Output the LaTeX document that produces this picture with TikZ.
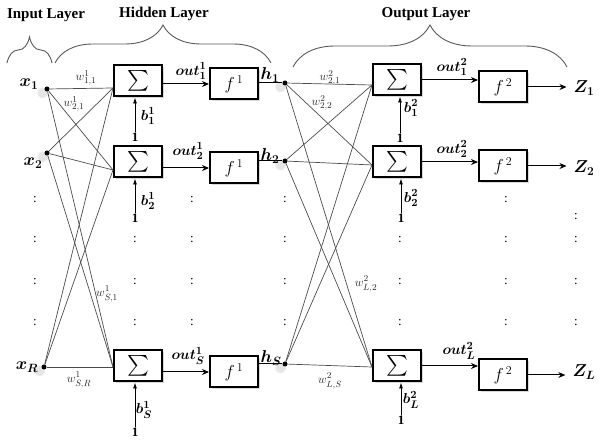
\documentclass[tikz,border=0pt]{standalone}
\usepackage{amsmath}
\usepackage{fontspec}
\setmainfont{Liberation Serif}
\usepackage{bm}
\usetikzlibrary{arrows.meta,shadows,decorations.pathreplacing}
\newcommand{\wcol}{black!70}
\newcommand{\brcol}{black!65}
\tikzset{
  ttl/.style={font=\fontsize{15}{17}\selectfont\bfseries},
  sumbox/.style={draw, line width=2pt, fill=white, minimum width=48pt, minimum height=31pt, inner sep=0pt,
    drop shadow={shadow xshift=2pt, shadow yshift=-2pt, opacity=0.3}},
  neuron/.style={circle, fill=black, minimum size=5pt, inner sep=0pt,
    circular drop shadow={shadow xshift=-2pt, shadow yshift=-1.5pt, shadow scale=2.3, opacity=0.2}},
  lab/.style={font=\fontsize{17}{19}\selectfont, inner sep=1pt},
  outlab/.style={font=\fontsize{15}{17}\selectfont, inner sep=0pt},
  wlab/.style={font=\fontsize{13}{15}\selectfont, text=black!85, inner sep=0pt},
  onelab/.style={font=\fontsize{13}{15}\selectfont\bfseries, inner sep=1pt},
  wline/.style={draw=\wcol, line width=0.7pt},
  sig/.style={line width=1pt, -{Stealth[length=7pt,width=6pt]}},
  bias/.style={line width=0.8pt, -{Latex[length=6pt,width=4pt]}},
  brc/.style={draw=\brcol, line width=0.9pt, decorate},
  dd/.style={font=\fontsize{13}{15}\selectfont, inner sep=0pt},
}

\begin{document}
\begin{tikzpicture}[x=1pt, y=-1pt]
  \useasboundingbox (0,0) rectangle (600,443);

  % titres
  \node[ttl] (tin) at (46,15) {Input Layer};
  \node[ttl] (thid) at (164,14) {Hidden Layer};
  \node[ttl] (tout) at (426,14) {Output Layer};

  % accolades
  \coordinate (bi1) at (7,63);
  \coordinate (bi2) at (52,63);
  \coordinate (bh1) at (55,63);
  \coordinate (bh2) at (271,63);
  \coordinate (bo1) at (293,67);
  \coordinate (bo2) at (567,67);
  \draw[brc, decoration={brace, amplitude=26pt}] (bi1) -- (bi2);
  \draw[brc, decoration={brace, amplitude=38pt}] (bh1) -- (bh2);
  \draw[brc, decoration={brace, amplitude=42pt}] (bo1) -- (bo2);

  % entrees
  \node[neuron] (x1) at (47,89) {};
  \node[neuron] (x2) at (47,153) {};
  \node[neuron] (xr) at (44,367) {};
  \node[lab] (lx1) at (29,84) {$\bm{x}_{\bm 1}$};
  \node[lab] (lx2) at (33,163) {$\bm{x}_{\bm 2}$};
  \node[lab] (lxr) at (27,367) {$\bm{x}_{\bm R}$};

  % couche cachee
  \node[sumbox] (s1) at (138,81) {\fontsize{20}{22}\selectfont$\sum$};
  \node[sumbox] (s2) at (138,162) {\fontsize{20}{22}\selectfont$\sum$};
  \node[sumbox] (s3) at (138,366) {\fontsize{20}{22}\selectfont$\sum$};
  \node[sumbox] (f1) at (234,84) {\fontsize{17}{19}\selectfont$f^{\,1}$};
  \node[sumbox] (f2) at (234,168) {\fontsize{17}{19}\selectfont$f^{\,1}$};
  \node[sumbox] (f3) at (234,372) {\fontsize{17}{19}\selectfont$f^{\,1}$};
  \node[neuron] (h1) at (285,83) {};
  \node[neuron] (h2) at (285,161) {};
  \node[neuron] (h3) at (285,364) {};
  \node[lab] (lh1) at (270,75) {$\bm{h}_{\bm 1}$};
  \node[lab] (lh2) at (270,156) {$\bm{h}_{\bm 2}$};
  \node[lab] (lh3) at (271,358) {$\bm{h}_{\bm S}$};

  \coordinate (c1) at ([yshift=-7pt]s1.west);
  \coordinate (c2) at ([yshift=-8pt]s2.west);
  \coordinate (c3) at ([yshift=-1pt]s3.west);

  % poids entree -> cachee
  \draw[wline] (x1) -- (c1);
  \draw[wline] (x1) -- (c2);
  \draw[wline] (x1) -- (c3);
  \draw[wline] (x2) -- (c1);
  \draw[wline] (x2) -- (c2);
  \draw[wline] (x2) -- (c3);
  \draw[wline] (xr) -- (c1);
  \draw[wline] (xr) -- (c2);
  \draw[wline] (xr) -- (c3);
  \node[wlab] (w11) at (86,78) {$w^{1}_{1,1}$};
  \node[wlab] (w21) at (74,104) {$w^{1}_{2,1}$};
  \node[wlab] (ws1) at (107,294) {$w^{1}_{S,1}$};
  \node[wlab] (wsr) at (79,380) {$w^{1}_{S,R}$};

  % biais caches
  \node[onelab] (one1) at (135,137) {1};
  \node[onelab] (one2) at (135,218) {1};
  \node[onelab] (one3) at (135,432) {1};
  \draw[bias] (one1) -- (one1 |- s1.south);
  \draw[bias] (one2) -- (one2 |- s2.south);
  \draw[bias] (one3) -- (one3 |- s3.south);
  \node[outlab] (b1) at (148,116) {$\bm{b}^{\bm 1}_{\bm 1}$};
  \node[outlab] (b2) at (148,201) {$\bm{b}^{\bm 1}_{\bm 2}$};
  \node[outlab] (b3) at (144,410) {$\bm{b}^{\bm 1}_{\bm S}$};

  \draw[sig] (s1.east |- f1.west) -- (f1.west);
  \draw[sig] (s2.east |- f2.west) -- (f2.west);
  \draw[sig] (s3.east |- f3.west) -- (f3.west);
  \node[outlab] (n1) at (191,71) {$\bm{out}^{\bm 1}_{\bm 1}$};
  \node[outlab] (n2) at (188,151) {$\bm{out}^{\bm 1}_{\bm 2}$};
  \node[outlab] (n3) at (188,356) {$\bm{out}^{\bm 1}_{\bm S}$};
  \draw[line width=1pt] (f1.east |- h1) -- (h1);
  \draw[line width=1pt] (f2.east |- h2) -- (h2);
  \draw[line width=1pt] (f3.east |- h3) -- (h3);

  % couche de sortie
  \node[sumbox] (o1) at (397,80) {\fontsize{20}{22}\selectfont$\sum$};
  \node[sumbox] (o2) at (397,162) {\fontsize{20}{22}\selectfont$\sum$};
  \node[sumbox] (o3) at (397,366) {\fontsize{20}{22}\selectfont$\sum$};
  \node[sumbox] (g1) at (503,87) {\fontsize{17}{19}\selectfont$f^{\,2}$};
  \node[sumbox] (g2) at (503,166) {\fontsize{17}{19}\selectfont$f^{\,2}$};
  \node[sumbox] (g3) at (503,375) {\fontsize{17}{19}\selectfont$f^{\,2}$};
  \node[lab] (z1) at (584,88) {$\bm{Z}_{\bm 1}$};
  \node[lab] (z2) at (584,168) {$\bm{Z}_{\bm 2}$};
  \node[lab] (z3) at (584,372) {$\bm{Z}_{\bm L}$};

  \coordinate (d1) at ([yshift=-5pt]o1.west);
  \coordinate (d2) at ([yshift=-3pt]o2.west);
  \coordinate (d3) at ([yshift=-1pt]o3.west);

  % poids cachee -> sortie
  \draw[wline] (h1) -- (d1);
  \draw[wline] (h1) -- (d2);
  \draw[wline] (h1) -- (d3);
  \draw[wline] (h2) -- (d1);
  \draw[wline] (h2) -- (d2);
  \draw[wline] (h2) -- (d3);
  \draw[wline] (h3) -- (d1);
  \draw[wline] (h3) -- (d2);
  \draw[wline] (h3) -- (d3);
  \node[wlab] (v21) at (330,78) {$w^{2}_{2,1}$};
  \node[wlab] (v22) at (322,103) {$w^{2}_{2,2}$};
  \node[wlab] (vl2) at (366,284) {$w^{2}_{L,2}$};
  \node[wlab] (vls) at (330,381) {$w^{2}_{L,S}$};

  % biais sortie
  \node[onelab] (two1) at (400,138) {1};
  \node[onelab] (two2) at (401,218) {1};
  \node[onelab] (two3) at (401,420) {1};
  \draw[bias] (two1) -- (two1 |- o1.south);
  \draw[bias] (two2) -- (two2 |- o2.south);
  \draw[bias] (two3) -- (two3 |- o3.south);
  \node[outlab] (c21) at (411,108) {$\bm{b}^{\bm 2}_{\bm 1}$};
  \node[outlab] (c22) at (411,198) {$\bm{b}^{\bm 2}_{\bm 2}$};
  \node[outlab] (c23) at (411,400) {$\bm{b}^{\bm 2}_{\bm L}$};

  \draw[sig] (o1.east) -- (o1.east -| g1.west);
  \draw[sig] (o2.east) -- (o2.east -| g2.west);
  \draw[sig] (o3.east) -- (o3.east -| g3.west);
  \node[outlab] (m1) at (452,67) {$\bm{out}^{\bm 2}_{\bm 1}$};
  \node[outlab] (m2) at (452,149) {$\bm{out}^{\bm 2}_{\bm 2}$};
  \node[outlab] (m3) at (459,351) {$\bm{out}^{\bm 2}_{\bm L}$};
  \draw[sig, shorten >=6pt] (g1.east) -- (g1.east -| z1.west);
  \draw[sig, shorten >=6pt] (g2.east) -- (g2.east -| z2.west);
  \draw[sig, shorten >=6pt] (g3.east) -- (g3.east -| z3.west);

  % points de suspension
  \node[dd] (pa1) at (35,200) {:};
  \node[dd] (pa2) at (35,240) {:};
  \node[dd] (pa3) at (35,282) {:};
  \node[dd] (pa4) at (35,323) {:};
  \node[dd] (pb2) at (135,240) {:};
  \node[dd] (pb3) at (135,282) {:};
  \node[dd] (pb4) at (135,323) {:};
  \node[dd] (pc1) at (192,200) {:};
  \node[dd] (pc2) at (192,240) {:};
  \node[dd] (pc3) at (192,282) {:};
  \node[dd] (pc4) at (192,323) {:};
  \node[dd] (pd1) at (285,200) {:};
  \node[dd] (pd2) at (285,240) {:};
  \node[dd] (pd3) at (285,282) {:};
  \node[dd] (pd4) at (285,323) {:};
  \node[dd] (pe2) at (400,240) {:};
  \node[dd] (pe3) at (400,282) {:};
  \node[dd] (pe4) at (400,323) {:};
  \node[dd] (pf1) at (506,200) {:};
  \node[dd] (pf2) at (506,240) {:};
  \node[dd] (pf3) at (506,282) {:};
  \node[dd] (pf4) at (506,323) {:};
  \node[dd] (pg1) at (576,217) {:};
  \node[dd] (pg2) at (576,240) {:};
  \node[dd] (pg3) at (576,282) {:};
  \node[dd] (pg4) at (576,323) {:};

\end{tikzpicture}
\end{document}
